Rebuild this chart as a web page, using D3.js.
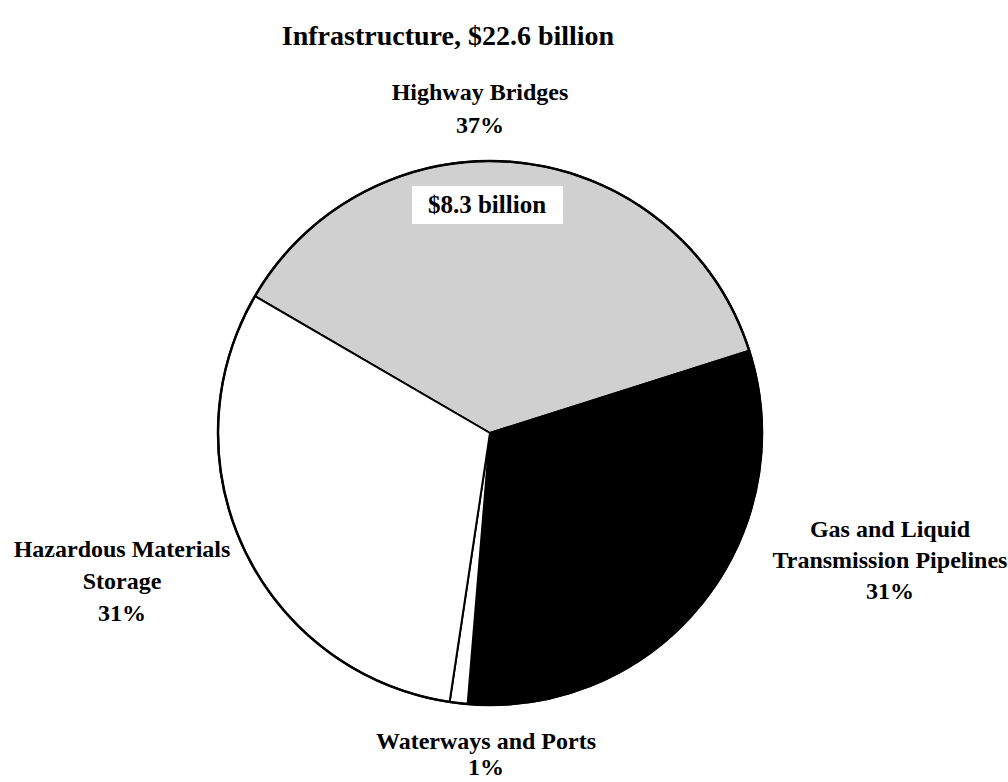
<!DOCTYPE html>
<html>
<head>
<meta charset="utf-8">
<script src="https://cdn.jsdelivr.net/npm/d3@7"></script>
<style>
  html, body { margin: 0; padding: 0; background: #fff; }
  svg text { font-family: "Liberation Serif", "Times New Roman", serif; font-weight: bold; fill: #000; }
</style>
</head>
<body>
<svg id="chart" width="1008" height="782"></svg>
<script>
// Infrastructure spending by category, billions of dollars
const categories = ["Highway Bridges", "Gas and Liquid Transmission Pipelines", "Waterways and Ports", "Hazardous Materials Storage"];
const values = [8.3, 7.05, 0.24, 7.01];
const fills = ["#d0d0d0", "#000000", "#ffffff", "#ffffff"];
const labelLines = [
  ["Highway Bridges"],
  ["Gas and Liquid", "Transmission Pipelines"],
  ["Waterways and Ports"],
  ["Hazardous Materials", "Storage"]
];
const title = "Infrastructure, $22.6 billion";
const calloutText = "$8.3 billion";

const svg = d3.select("#chart");
const cx = 490, cy = 433, r = 272;
const total = d3.sum(values);
const data = categories.map((c, i) => ({ name: c, value: values[i], fill: fills[i], lines: labelLines[i] }));

// Pie starts at the upper-left edge of the bridges slice and runs clockwise
const start = -59.8 * Math.PI / 180;
const pie = d3.pie().value(d => d.value).sort(null)
  .startAngle(start).endAngle(start + 2 * Math.PI);
const arc = d3.arc().innerRadius(0).outerRadius(r);
const arcs = pie(data);

const g = svg.append("g").attr("transform", `translate(${cx},${cy})`);

g.selectAll("path.slice")
  .data(arcs)
  .join("path")
  .attr("class", "slice")
  .attr("d", arc)
  .attr("fill", d => d.data.fill)
  .attr("stroke", "#000")
  .attr("stroke-width", 2)
  .attr("stroke-linejoin", "round");

// Outer rim
g.append("circle").attr("r", r).attr("fill", "none").attr("stroke", "#000").attr("stroke-width", 2.5);

// Title
svg.append("text")
  .attr("x", 448).attr("y", 45)
  .attr("text-anchor", "middle")
  .attr("font-size", 28)
  .text(title);

// Category labels with percentages
const pct = v => Math.round(v / total * 100) + "%";
const labelPos = [
  { x: 480, y: 100 },
  { x: 890, y: 537 },
  { x: 486, y: 749 },
  { x: 122, y: 557 }
];
const lineH = [33, 31, 26, 32];
arcs.forEach((a, i) => {
  const t = svg.append("text")
    .attr("text-anchor", "middle")
    .attr("font-size", 24);
  const lines = a.data.lines.concat([pct(a.data.value)]);
  lines.forEach((ln, j) => {
    t.append("tspan")
      .attr("x", labelPos[i].x)
      .attr("y", labelPos[i].y + j * lineH[i])
      .text(ln);
  });
});

// Value callout inside the bridges slice
const cg = svg.append("g");
cg.append("rect")
  .attr("x", 412).attr("y", 186)
  .attr("width", 151).attr("height", 38)
  .attr("fill", "#fff");
cg.append("text")
  .attr("x", 487).attr("y", 213)
  .attr("text-anchor", "middle")
  .attr("font-size", 25)
  .text(calloutText);
</script>
</body>
</html>
